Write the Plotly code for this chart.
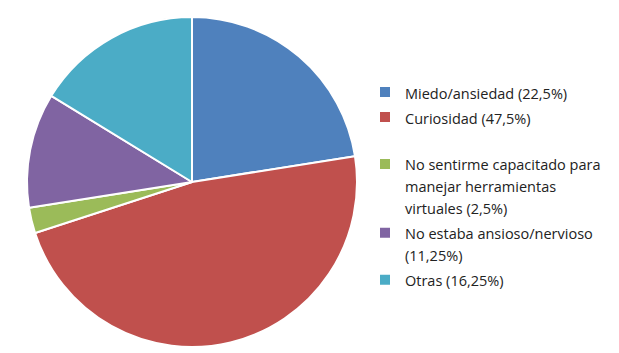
import plotly.graph_objects as go

labels = [
    "Miedo/ansiedad (22,5%)",
    "Curiosidad (47,5%)",
    "No sentirme capacitado para<br>manejar herramientas<br>virtuales (2,5%)",
    "No estaba ansioso/nervioso<br>(11,25%)",
    "Otras (16,25%)",
]
values = [22.5, 47.5, 2.5, 11.25, 16.25]
colors = ["#4F81BD", "#C0504D", "#9BBB59", "#8064A2", "#4BACC6"]
# entries followed by an empty spacer line in the legend
spacer_after = [False, True, False, False, False]


def legend_text(label, spacer):
    lines = label.split("<br>")
    styled = "<br>".join("<span style='font-size:14.5px'>%s</span>" % s for s in lines)
    return styled + ("<br> " if spacer else "")


legend_labels = [legend_text(l, s) for l, s in zip(labels, spacer_after)]

fig = go.Figure(go.Pie(
    labels=legend_labels,
    values=values,
    sort=False,
    direction="clockwise",
    rotation=0,
    textinfo="none",
    marker=dict(colors=colors, line=dict(color="white", width=2)),
    domain=dict(x=[26/619, 358/619], y=[1-347/353, 1-17/353]),
    hovertemplate="%{label}<extra></extra>",
))

fig.update_layout(
    width=619, height=353,
    margin=dict(l=0, r=0, t=0, b=0),
    paper_bgcolor="white",
    font=dict(family="Open Sans", size=16.9, color="#222222"),
    legend=dict(x=365/619, y=1-74.5/353, xanchor="left", yanchor="top",
                valign="top", font=dict(size=16.9), itemwidth=30,
                tracegroupgap=0),
    showlegend=True,
)

fig.write_html("out.html")
